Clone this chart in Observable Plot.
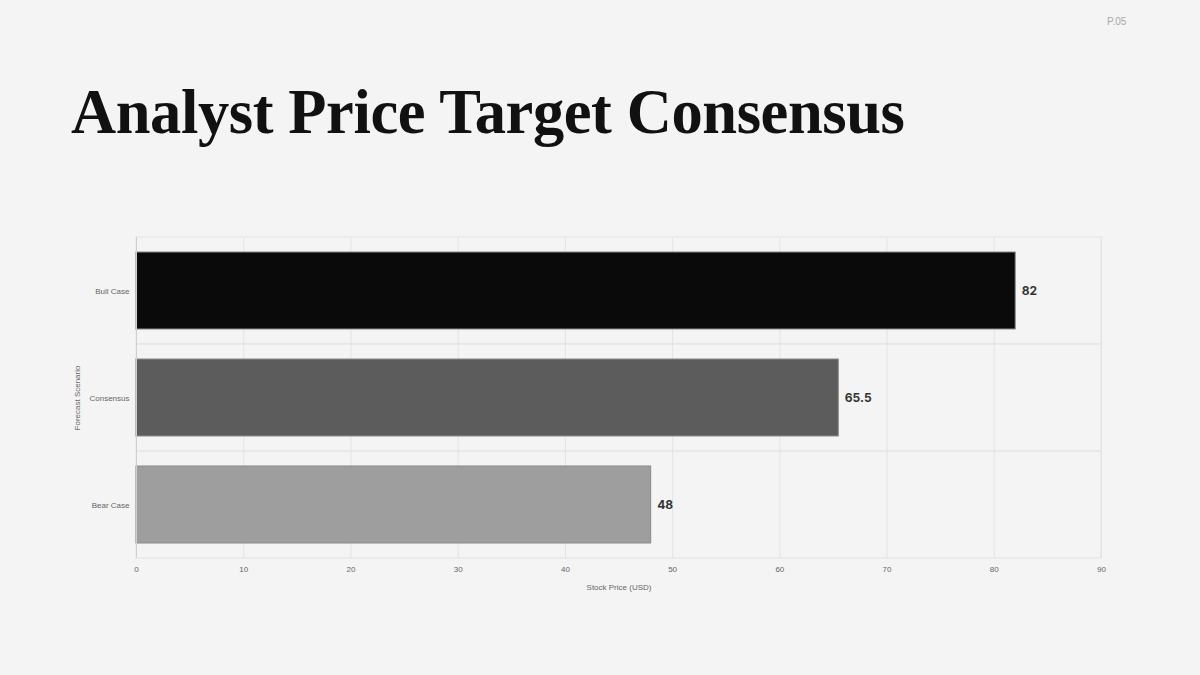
<!DOCTYPE html>
<html>
<head>
<meta charset="utf-8">
<script src="https://cdn.jsdelivr.net/npm/d3@7"></script>
<script src="https://cdn.jsdelivr.net/npm/@observablehq/plot@0.6"></script>
<style>
  html, body { margin: 0; padding: 0; background: #f4f4f4; width: 1200px; height: 675px; overflow: hidden; }
  #page { position: relative; width: 1200px; height: 675px; }
  #pagenum { position: absolute; left: 1107px; top: 16px; font: 10px "Liberation Sans", Arial, sans-serif; color: #a8a8a8; }
  #title { position: absolute; left: 71px; top: 76px; margin: 0; font: 700 62.5px "Liberation Serif", "DejaVu Serif", serif; color: #111; letter-spacing: -0.4px; white-space: nowrap; }
  #chart { position: absolute; left: 0; top: 200px; }
</style>
</head>
<body>
<div id="page">
  <div id="pagenum">P.05</div>
  <h1 id="title">Analyst Price Target Consensus</h1>
  <div id="chart"></div>
</div>
<script>
const scenarios = ["Bull Case", "Consensus", "Bear Case"];
const targets = [82, 65.5, 48];
const barColors = ["#0a0a0a", "#5c5c5c", "#9e9e9e"];
const xTicks = [0, 10, 20, 30, 40, 50, 60, 70, 80, 90];

const data = scenarios.map((s, i) => ({scenario: s, value: targets[i], color: barColors[i]}));

const chart = Plot.plot({
  width: 1200,
  height: 420,
  marginLeft: 136,
  marginRight: 99,
  marginTop: 37,
  marginBottom: 62,
  style: {background: "transparent", fontFamily: "Liberation Sans, Arial, sans-serif", fontSize: "8px", color: "#666"},
  x: {domain: [0, 90], ticks: xTicks, label: "Stock Price (USD)", labelArrow: "none"},
  y: {domain: scenarios, padding: 0, label: "Forecast Scenario", labelArrow: "none"},
  marks: [
    Plot.ruleX(xTicks, {stroke: "#e3e3e3", strokeWidth: 1}),
    Plot.barX(data, {y: "scenario", x1: 0, x2: 90, fill: "none", stroke: "#e3e3e3", strokeWidth: 1}),
    Plot.barX(data, {y: "scenario", x: "value", fill: "color", stroke: "#8a8a8a", strokeWidth: 1, insetTop: 15, insetBottom: 15}),
    Plot.text(data, {y: "scenario", x: "value", text: d => String(d.value), textAnchor: "start", dx: 6, fill: "#333", fontSize: 12, fontWeight: 700, fontFamily: "Inter, Roboto, sans-serif"}),
    Plot.ruleX([0], {stroke: "#cfcfcf", strokeWidth: 1}),
    Plot.axisX({ticks: xTicks, tickSize: 0, tickPadding: 8, label: "Stock Price (USD)", labelArrow: "none", labelAnchor: "center", labelOffset: 31, fill: "#666"}),
    Plot.axisY({tickSize: 0, tickPadding: 7, label: "Forecast Scenario", labelArrow: "none", labelAnchor: "center", labelOffset: 62, fill: "#666"})
  ]
});
document.getElementById("chart").appendChild(chart);
</script>
</body>
</html>
